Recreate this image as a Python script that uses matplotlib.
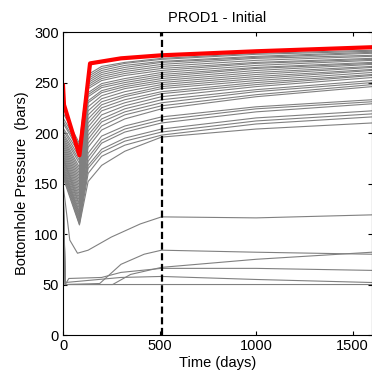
import matplotlib.pyplot as plt
import matplotlib as mpl

mpl.rcParams.update({
    "font.family": ["Liberation Sans", "DejaVu Sans"],
    "font.size": 10.5,
    "xtick.direction": "in",
    "ytick.direction": "in",
    "xtick.top": True,
    "ytick.right": True,
})

# red (selected) well curve
red_t = [0, 5, 85, 140, 300, 510, 1000, 1600]
red_p = [247, 228, 178, 269, 274, 277, 281, 285]

# upper bundle of ensemble curves, sampled at common times
bundle_t = [0, 85, 130, 200, 320, 510, 1000, 1600]
bundle_p = [
    [220, 190, 258, 266, 270, 274, 279, 282],
    [215, 188, 256, 264, 269, 273, 278, 281],
    [212, 185, 254, 262, 267, 271, 276, 280],
    [210, 182, 252, 260, 265, 270, 275, 279],
    [205, 180, 250, 258, 263, 268, 274, 277],
    [203, 176, 248, 256, 261, 266, 272, 276],
    [200, 173, 246, 254, 259, 264, 270, 274],
    [198, 170, 244, 252, 257, 262, 269, 273],
    [196, 166, 240, 249, 254, 260, 267, 272],
    [194, 163, 238, 247, 252, 258, 265, 270],
    [192, 160, 236, 245, 250, 256, 264, 269],
    [190, 157, 232, 242, 248, 254, 262, 268],
    [188, 154, 230, 240, 246, 252, 260, 266],
    [186, 151, 226, 237, 244, 250, 258, 265],
    [184, 148, 222, 234, 241, 248, 256, 263],
    [182, 145, 218, 231, 238, 246, 254, 262],
    [180, 142, 214, 228, 236, 244, 252, 260],
    [178, 139, 210, 225, 233, 241, 250, 258],
    [176, 136, 206, 222, 230, 239, 248, 257],
    [175, 133, 202, 218, 227, 236, 246, 255],
    [174, 130, 198, 214, 224, 233, 243, 252],
    [172, 128, 194, 211, 221, 230, 241, 250],
    [170, 125, 190, 207, 218, 227, 238, 248],
    [168, 122, 186, 203, 214, 224, 236, 246],
    [166, 120, 180, 197, 207, 216, 226, 233],
    [165, 118, 176, 193, 204, 213, 224, 231],
    [163, 116, 172, 190, 201, 210, 221, 229],
    [162, 114, 168, 184, 195, 204, 215, 222],
    [160, 112, 165, 181, 192, 201, 212, 219],
    [158, 110, 160, 177, 188, 198, 209, 216],
    [156, 109, 152, 168, 182, 196, 204, 210],
]

# lower curves, each with its own sample times
low_t = [
    [0, 35, 75, 130, 250, 400, 510, 1000, 1600],
    [0, 12, 190, 300, 420, 510, 1000, 1600],
    [0, 12, 257, 350, 510, 1000, 1600],
    [0, 12, 30, 200, 300, 510, 1000, 1600],
    [0, 12, 300, 510, 1000, 1600],
    [0, 10, 1600],
]
low_p = [
    [150, 94, 81, 84, 97, 110, 117, 116, 119],
    [160, 50, 51, 70, 80, 84, 82, 80],
    [155, 50, 50, 60, 67, 75, 82],
    [150, 50, 56, 57, 62, 66, 66, 64],
    [145, 52, 57, 58, 55, 52],
    [140, 50, 50],
]

history_end = 510

fig = plt.figure(figsize=(3.72, 3.82), dpi=100)
ax = fig.add_axes([0.1694, 0.123, 0.8306, 0.793])

for p in bundle_p:
    ax.plot(bundle_t, p, color="#808080", lw=0.8)
for t, p in zip(low_t, low_p):
    ax.plot(t, p, color="#808080", lw=0.8)
ax.plot(red_t, red_p, color="red", lw=3)
ax.axvline(history_end, color="black", lw=1.6, ls=(0, (3.2, 1.6)))

ax.set_xlim(0, 1600)
ax.set_ylim(0, 300)
ax.set_xticks([0, 500, 1000, 1500])
ax.set_yticks([0, 50, 100, 150, 200, 250, 300])
ax.tick_params(length=3, width=0.8, pad=3)
ax.set_title("PROD1 - Initial", fontsize=10.5, pad=7)
ax.set_xlabel("Time (days)", labelpad=2)
ax.set_ylabel("Bottomhole Pressure  (bars)", labelpad=4)

fig.savefig("out.png")
